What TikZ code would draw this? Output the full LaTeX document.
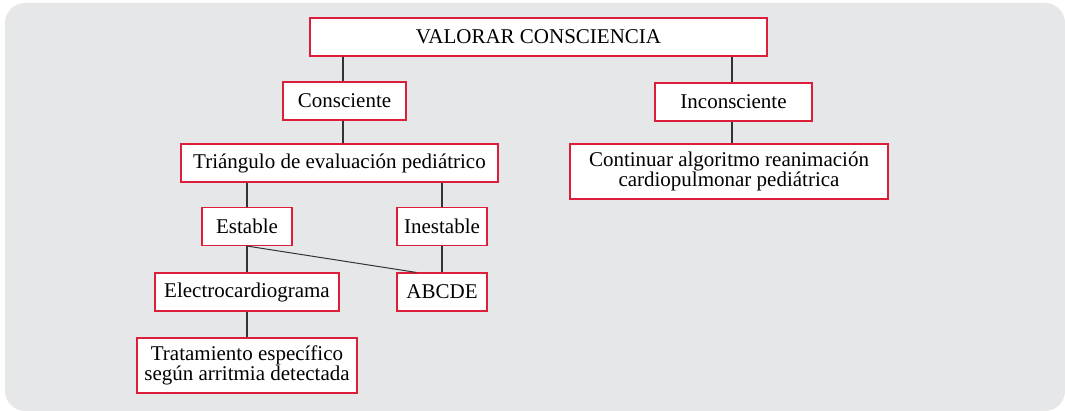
\documentclass[tikz,border=0pt]{standalone}
\usepackage{fontspec}
\setmainfont{Liberation Serif}
\usepackage{xcolor}
\usepackage{tikz}
\usetikzlibrary{calc}
\definecolor{panel}{HTML}{E6E7E9}
\definecolor{frame}{HTML}{DC1E3A}
\definecolor{wire}{HTML}{333333}
\tikzset{
  box/.style={draw=frame, fill=white, line width=1.1pt, inner sep=0pt,
    align=center, font=\fontsize{21}{17}\selectfont, minimum height=38pt},
  link/.style={draw=wire, line width=1.2pt}
}

\begin{document}
\begin{tikzpicture}[x=1pt,y=-1pt]
  \useasboundingbox (0,0) rectangle (1065,411);
  \fill[panel, rounded corners=20pt] (5,3) rectangle (1065,411);

  % top level
  \node[box, minimum width=457pt] (valorar) at (538.5,37) {VALORAR CONSCIENCIA};
  \node[box, minimum width=123pt] (consciente) at (344.5,101) {Consciente};
  \node[box, minimum width=157pt] (inconsciente) at (733.5,102) {Inconsciente};

  % second level
  \node[box, minimum width=317pt] (triangulo) at (339.5,163) {Triángulo de evaluación pediátrico};
  \node[box, minimum width=318pt, minimum height=55pt] (continuar) at (729,171.5)
    {Continuar algoritmo reanimación\\cardiopulmonar pediátrica};

  % third level
  \node[box, minimum width=90pt] (estable) at (247,226.5) {Estable};
  \node[box, minimum width=90pt] (inestable) at (442,226.5) {Inestable};
  \node[box, minimum width=184pt] (electro) at (247,292) {Electrocardiograma};
  \node[box, minimum width=90pt] (abcde) at (442,292) {ABCDE};
  \node[box, minimum width=220pt, minimum height=55pt] (tratamiento) at (247,365.5)
    {Tratamiento específico\\según arritmia detectada};

  % connectors
  \draw[link] (valorar.south -| 343,0) -- (consciente.north -| 343,0);
  \draw[link] (valorar.south -| 732,0) -- (inconsciente.north -| 732,0);
  \draw[link] (consciente.south -| 343,0) -- (triangulo.north -| 343,0);
  \draw[link] (inconsciente.south -| 732,0) -- (continuar.north -| 732,0);
  \draw[link] (triangulo.south -| estable.north) -- (estable.north);
  \draw[link] (triangulo.south -| inestable.north) -- (inestable.north);
  \draw[link] (estable.south) -- (electro.north);
  \draw[link] (inestable.south) -- (abcde.north);
  \coordinate (abcdein) at ($(abcde.north west)!0.22!(abcde.north east)$);
  \draw[link, line width=1pt] (estable.south) -- (abcdein);
  \draw[link] (electro.south) -- (tratamiento.north);
\end{tikzpicture}
\end{document}
